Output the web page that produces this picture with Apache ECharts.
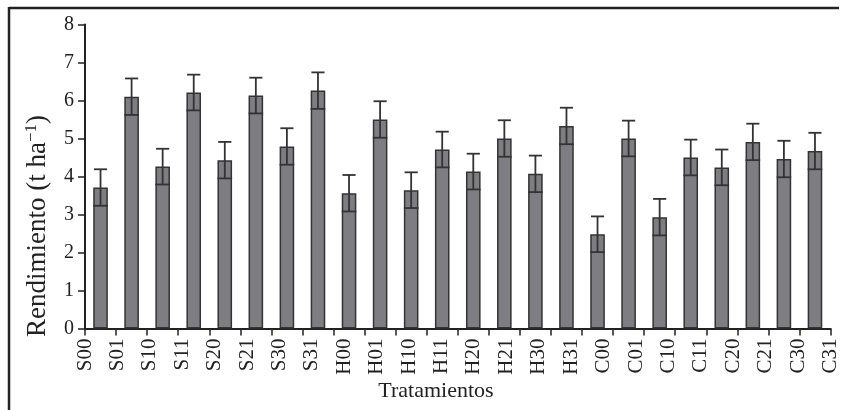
<!DOCTYPE html>
<html>
<head>
<meta charset="utf-8">
<script src="https://cdn.jsdelivr.net/npm/echarts@6/dist/echarts.min.js"></script>
<style>html,body{margin:0;padding:0;background:#fff}#c{width:841px;height:410px}</style>
</head>
<body>
<div id="c"></div>
<script>
const categories = ['S00','S01','S10','S11','S20','S21','S30','S31','H00','H01','H10','H11','H20','H21','H30','H31','C00','C01','C10','C11','C20','C21','C30','C31'];
const yieldValues = [3.71,6.10,4.26,6.21,4.43,6.13,4.79,6.26,3.56,5.50,3.64,4.71,4.13,5.00,4.07,5.33,2.48,5.00,2.93,4.50,4.24,4.91,4.46,4.67];
const errorValues = [0.48,0.48,0.47,0.47,0.48,0.47,0.48,0.48,0.48,0.48,0.47,0.47,0.47,0.48,0.48,0.48,0.47,0.47,0.48,0.47,0.47,0.48,0.48,0.48];
const yTicks = [0,1,2,3,4,5,6,7,8];

const FONT = 'Liberation Serif';
const chart = echarts.init(document.getElementById('c'), null, {renderer: 'canvas'});
const errData = yieldValues.map((v, i) => [i, v - errorValues[i], v + errorValues[i]]);

chart.setOption({
  animation: false,
  grid: {left: 85, right: 9, top: 24.5, bottom: 81.5, containLabel: false},
  xAxis: [{
    type: 'category', data: categories, boundaryGap: true,
    axisLine: {lineStyle: {color: '#222', width: 2}},
    axisTick: {show: true, inside: false, length: 7, interval: 0, lineStyle: {color: '#222', width: 1.5}},
    axisLabel: {show: false},
    splitLine: {show: false}
  }, {
    type: 'category', data: categories, boundaryGap: false, position: 'bottom',
    axisLine: {show: false}, axisTick: {show: false}, splitLine: {show: false},
    axisLabel: {show: true, interval: 0, rotate: 90, margin: 10, color: '#222', fontFamily: FONT, fontSize: 21}
  }],
  yAxis: {
    type: 'value', min: 0, max: 8, interval: 1,
    axisLine: {show: true, lineStyle: {color: '#222', width: 2}},
    axisTick: {show: true, length: 7, lineStyle: {color: '#222', width: 1.5}},
    axisLabel: {color: '#222', fontFamily: FONT, fontSize: 20, margin: 11,
      formatter: v => yTicks.indexOf(v) >= 0 ? String(v) : ''},
    splitLine: {show: false}
  },
  series: [{
    type: 'bar', xAxisIndex: 0, data: yieldValues, barWidth: '47%',
    itemStyle: {color: '#7e7e82', borderColor: '#333', borderWidth: 1.5},
    z: 2
  }, {
    type: 'custom', xAxisIndex: 0, data: errData, z: 3,
    renderItem: function (params, api) {
      const i = api.value(0);
      const lo = api.coord([i, api.value(1)]);
      const hi = api.coord([i, api.value(2)]);
      const bw = api.size([1, 0])[0] * 0.47;
      const half = bw / 2;
      const capHalf = half * 0.9;
      const st = {stroke: '#333', lineWidth: 1.8};
      return {type: 'group', children: [
        {type: 'line', shape: {x1: hi[0], y1: hi[1], x2: lo[0], y2: lo[1]}, style: st},
        {type: 'line', shape: {x1: hi[0] - capHalf, y1: hi[1], x2: hi[0] + capHalf, y2: hi[1]}, style: st},
        {type: 'line', shape: {x1: lo[0] - half, y1: lo[1], x2: lo[0] + half, y2: lo[1]}, style: st}
      ]};
    }
  }],
  graphic: [
    {type: 'line', shape: {x1: 9, y1: 8, x2: 839, y2: 8}, style: {stroke: '#222', lineWidth: 2.5}},
    {type: 'line', shape: {x1: 9, y1: 7, x2: 9, y2: 410}, style: {stroke: '#222', lineWidth: 2.5}},
    {type: 'text', x: 436, y: 391, style: {text: 'Tratamientos', fontFamily: FONT, fontSize: 22, fill: '#222', align: 'center', verticalAlign: 'middle'}},
    {type: 'text', x: 38, y: 226, rotation: Math.PI / 2,
      style: {text: '{a|Rendimiento (t ha}{s|−1}{a|)}', fill: '#222', align: 'center', verticalAlign: 'middle',
        rich: {a: {fontFamily: FONT, fontSize: 27, lineHeight: 30, fill: '#222'},
               s: {fontFamily: FONT, fontSize: 17, lineHeight: 30, verticalAlign: 'top', padding: [0, 0, 8, 0], fill: '#222'}}}}
  ]
});
</script>
</body>
</html>
